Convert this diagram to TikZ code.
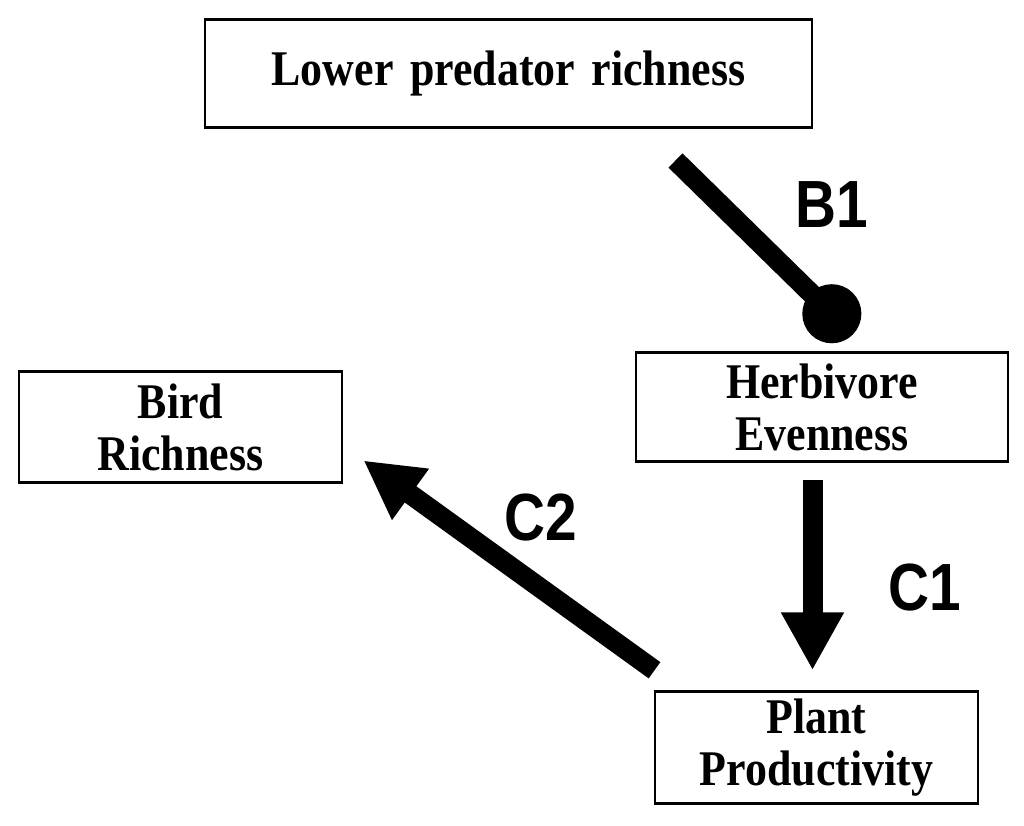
\documentclass[tikz,border=0pt]{standalone}
\usepackage{fontspec}
\usepackage{tikz}
\usetikzlibrary{arrows.meta,calc,positioning}
\newfontfamily\boxfont[FakeStretch=0.88,WordSpace=1.5]{Liberation Serif}
\newfontfamily\labfont[FakeStretch=0.85]{Liberation Sans}
\tikzset{
  varbox/.style={draw=black,line width=0.85pt,fill=white,align=center,inner sep=2pt,
    font=\boxfont\bfseries\fontsize{14.2pt}{14.8pt}\selectfont},
  effect/.style={line width=2mm,-{Triangle[length=5.8mm,width=5.9mm]}},
  inhibit/.style={line width=2mm,-{Circle[length=5.9mm,width=5.9mm]}},
  pathlab/.style={inner sep=0pt,font=\labfont\bfseries\fontsize{19pt}{22pt}\selectfont}
}
\begin{document}
\begin{tikzpicture}
\path[use as bounding box,fill=white] (0,0) rectangle (10.24,8.26);
% variables
\node[varbox,minimum width=6.07cm,minimum height=1.08cm] (pred) at (5.085,7.52) {Lower predator richness};
\node[varbox,minimum width=3.72cm,minimum height=1.09cm] (herb) at (8.22,4.185) {Herbivore\\Evenness};
\node[varbox,minimum width=3.23cm,minimum height=1.11cm] (bird) at (1.805,3.985) {Bird\\Richness};
\node[varbox,minimum width=3.23cm,minimum height=1.09cm] (plant) at (8.165,0.785) {Plant\\Productivity};
% paths
\draw[inhibit] ([shift={(1.67,-0.31)}]pred.south) -- ([shift={(0.309,0.171)}]herb.north);
\draw[effect] ([shift={(-0.095,-0.17)}]herb.south) -- ([shift={(-0.04,0.20)}]plant.north);
\draw[effect] ([shift={(0.01,0.20)}]plant.north west) -- ([shift={(0.20,0.24)}]bird.south east);
\node[pathlab] (b1) at (8.32,6.21) {B1};
\node[pathlab] (c1) at (9.25,2.38) {C1};
\node[pathlab] (c2) at (5.41,3.08) {C2};
\end{tikzpicture}
\end{document}
